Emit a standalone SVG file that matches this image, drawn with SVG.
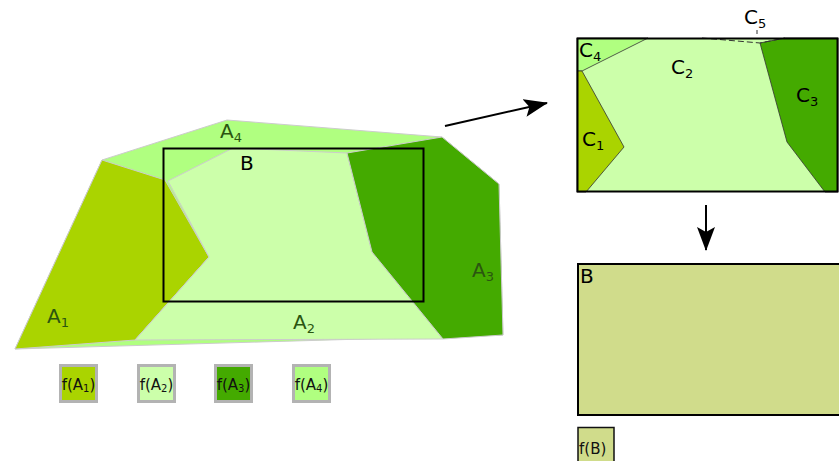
<svg xmlns="http://www.w3.org/2000/svg" width="839" height="461" viewBox="0 0 839 461">
<style>
.lbl{font-family:"DejaVu Sans",sans-serif;font-size:20px;fill:#2b5510}
.blk{font-family:"DejaVu Sans",sans-serif;font-size:20px;fill:#000}
.sm{font-family:"DejaVu Sans",sans-serif;font-size:15px;fill:#111}
.sub{font-size:13px}
.reg{stroke:#cccccc;stroke-width:1}
.creg{stroke:#333;stroke-width:0.8}
.leg{stroke:#b3b3b3;stroke-width:3}
</style>
<defs>
<marker id="ah" viewBox="0 0 24 18" refX="23" refY="9" markerWidth="24" markerHeight="18" markerUnits="userSpaceOnUse" orient="auto">
<path d="M0,0 L24,9 L0,18 L5,9 z" fill="#000"/>
</marker>
</defs>
<rect width="839" height="461" fill="#fff"/>
<g id="regionA">
<polygon id="A4" class="reg" fill="#b0ff80" points="102,160 227,120 442,137 499,184 503,335 15,349"/>
<polygon id="A1" class="reg" fill="#aad400" points="102,160 165,180 209,257 135,340 15,349"/>
<polygon id="A2" class="reg" fill="#ccffaa" points="168,181 233,148 347,153 372,252 443,339 135,340 209,257"/>
<polygon id="A3" class="reg" fill="#44aa00" points="347,153 442,137 499,184 503,335 443,339 372,252"/>
<rect id="B" x="163.5" y="148.5" width="260" height="153" fill="none" stroke="#000" stroke-width="2"/>
<text class="lbl" x="220" y="138">A<tspan class="sub" dy="4">4</tspan></text>
<text class="blk" x="240" y="170">B</text>
<text class="lbl" x="47" y="323">A<tspan class="sub" dy="4">1</tspan></text>
<text class="lbl" x="293" y="329">A<tspan class="sub" dy="4">2</tspan></text>
<text class="lbl" x="472" y="277">A<tspan class="sub" dy="4">3</tspan></text>
</g>
<g id="legendA">
<g id="fA1"><rect class="leg" x="60.5" y="365.5" width="36" height="36" fill="#aad400"/><text class="sm" x="78.5" y="390" text-anchor="middle">f(A<tspan font-size="10" dy="2">1</tspan><tspan dy="-2">)</tspan></text></g>
<g id="fA2"><rect class="leg" x="138.5" y="365.5" width="36" height="36" fill="#ccffaa"/><text class="sm" x="156.5" y="390" text-anchor="middle">f(A<tspan font-size="10" dy="2">2</tspan><tspan dy="-2">)</tspan></text></g>
<g id="fA3"><rect class="leg" x="215.5" y="365.5" width="36" height="36" fill="#44aa00"/><text class="sm" x="233.5" y="390" text-anchor="middle">f(A<tspan font-size="10" dy="2">3</tspan><tspan dy="-2">)</tspan></text></g>
<g id="fA4"><rect class="leg" x="293.5" y="365.5" width="36" height="36" fill="#b0ff80"/><text class="sm" x="311.5" y="390" text-anchor="middle">f(A<tspan font-size="10" dy="2">4</tspan><tspan dy="-2">)</tspan></text></g>
</g>
<g id="regionC">
<rect x="577" y="38" width="261" height="154" fill="#ccffaa"/>
<polygon id="C4" class="creg" fill="#b0ff80" points="577,38 648,38 582,71 577,71"/>
<polygon id="C1" class="creg" fill="#aad400" points="577,71 582,71 624,147 586,192 577,192"/>
<polygon id="C3" class="creg" fill="#44aa00" points="760,43 785,38 838,38 838,192 825,192 787,142"/>
<polyline id="C5" points="702,38 760,43 785,38" fill="none" stroke="#333" stroke-width="1" stroke-dasharray="6,3"/>
<line x1="757" y1="30" x2="757" y2="34" stroke="#333" stroke-width="1"/>
<rect x="577.5" y="38.5" width="260" height="153" fill="none" stroke="#000" stroke-width="2"/>
<text class="blk" x="579" y="57">C<tspan class="sub" dy="4">4</tspan></text>
<text class="blk" x="671" y="74">C<tspan class="sub" dy="4">2</tspan></text>
<text class="blk" x="796" y="102">C<tspan class="sub" dy="4">3</tspan></text>
<text class="blk" x="582" y="146">C<tspan class="sub" dy="4">1</tspan></text>
<text class="blk" x="744" y="24">C<tspan class="sub" dy="4">5</tspan></text>
</g>
<g id="resultB">
<rect x="578" y="264" width="262" height="151" fill="#d0dc8b" stroke="#000" stroke-width="2"/>
<text class="blk" x="580" y="283">B</text>
<rect x="578" y="427.5" width="36" height="40" fill="#d0dc8b" stroke="#111" stroke-width="1.5"/>
<text class="sm" x="579" y="454" font-size="16">f(B)</text>
</g>
<g id="connectors">
<line x1="445" y1="126" x2="547" y2="103" stroke="#000" stroke-width="2" marker-end="url(#ah)"/>
<line x1="706" y1="205" x2="706" y2="250" stroke="#000" stroke-width="2" marker-end="url(#ah)"/>
</g>
</svg>
